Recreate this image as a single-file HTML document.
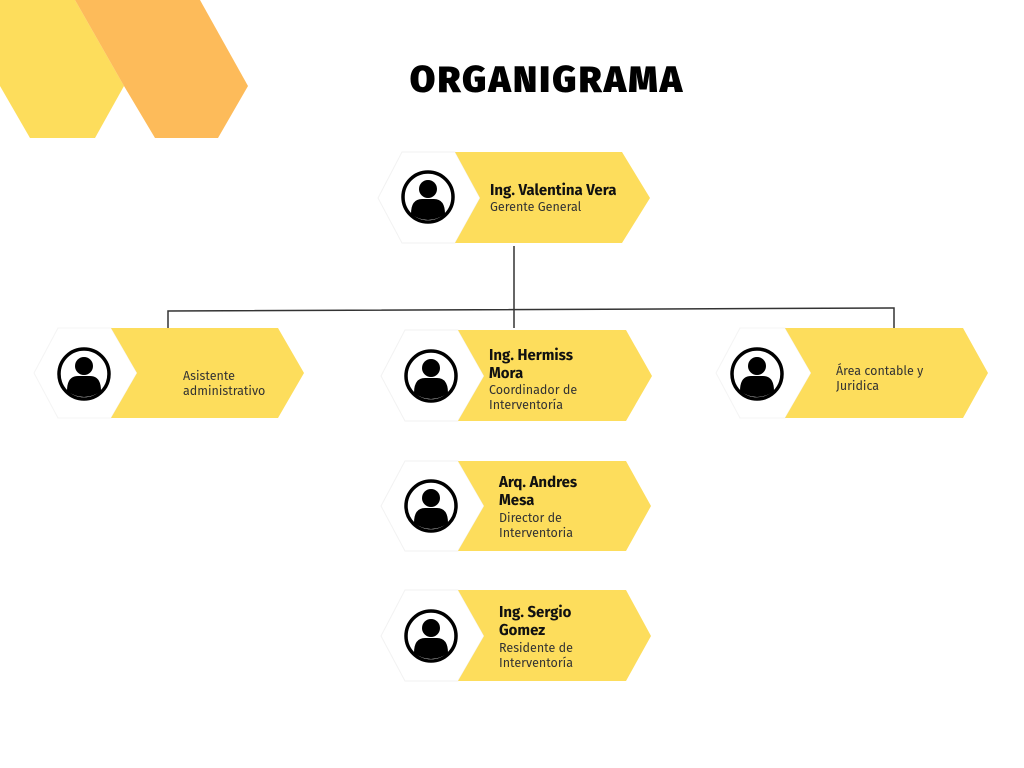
<!DOCTYPE html>
<html><head><meta charset="utf-8"><style>
body{margin:0;background:#fff}
svg{display:block}
text{font-family:"Fira Sans","Liberation Sans",sans-serif;fill:#111}
.b{font-weight:bold;font-size:15px}
.s{font-size:12.5px;fill:#333}
</style></head><body>
<svg width="1024" height="768" viewBox="0 0 1024 768">
<polygon points="0,0 75,0 124,86 95,138 30,138 0,86" fill="#FDDD5C"/>
<polygon points="75,0 200,0 248,86 218,138 155,138 124,86" fill="#FDBB5A"/>
<text x="547" y="92" text-anchor="middle" style="font-weight:900;font-size:37px;fill:#000;letter-spacing:2.2px">ORGANIGRAMA</text>

<g stroke="#333" stroke-width="1.5" fill="none">
<line x1="514" y1="246" x2="514" y2="328"/>
<polyline points="168,328 168,311 894,308 894,328"/>
</g>

<polygon points="402,152 455,152 480,198 455,243 402,243 378,198" fill="#fff" stroke="#f2f2f2"/>
<polygon points="455,152 622,152 650,198 622,243 455,243 480,198" fill="#FDDD5C"/>
<polygon points="58,328 111,328 137,373 111,418 58,418 34,373" fill="#fff" stroke="#f4f4f4"/>
<polygon points="111,328 278,328 304,373 278,418 111,418 137,373" fill="#FDDD5C"/>
<polygon points="405,330 458,330 484,376 458,421 405,421 381,376" fill="#fff" stroke="#f2f2f2"/>
<polygon points="458,330 626,330 652,376 626,421 458,421 484,376" fill="#FDDD5C"/>
<polygon points="740,328 785,328 811,373 785,418 740,418 716,373" fill="#fff" stroke="#f4f4f4"/>
<polygon points="785,328 963,328 988,373 963,418 785,418 811,373" fill="#FDDD5C"/>
<polygon points="405,461 458,461 484,506 458,551 405,551 381,506" fill="#fff" stroke="#f2f2f2"/>
<polygon points="458,461 626,461 651,506 626,551 458,551 484,506" fill="#FDDD5C"/>
<polygon points="405,590 458,590 484,636 458,681 405,681 381,636" fill="#fff" stroke="#f2f2f2"/>
<polygon points="458,590 626,590 651,636 626,681 458,681 484,636" fill="#FDDD5C"/>

<defs>
<g id="ic">
<circle cx="0" cy="0" r="25" fill="#fff" stroke="#000" stroke-width="3.5"/>
<circle cx="0" cy="-8" r="9" fill="#000"/>
<path d="M-17,17 Q-17,2 -6,2 L6,2 Q17,2 17,17 Q9,23 0,23 Q-9,23 -17,17Z" fill="#000"/>
</g>
</defs>
<use href="#ic" x="428" y="197"/>
<use href="#ic" x="84" y="374"/>
<use href="#ic" x="431" y="376"/>
<use href="#ic" x="757" y="374"/>
<use href="#ic" x="431" y="506"/>
<use href="#ic" x="431" y="636"/>

<text x="490" y="195" class="b">Ing. Valentina Vera</text>
<text x="490" y="211" class="s">Gerente General</text>

<text x="183" y="380" class="s">Asistente</text>
<text x="183" y="395" class="s">administrativo</text>

<text x="489" y="360" class="b">Ing. Hermiss</text>
<text x="489" y="378" class="b">Mora</text>
<text x="489" y="394" class="s">Coordinador de</text>
<text x="489" y="409" class="s">Interventoría</text>

<text x="836" y="375" class="s">Área contable y</text>
<text x="836" y="390" class="s">Juridica</text>

<text x="499" y="487" class="b">Arq. Andres</text>
<text x="499" y="505" class="b">Mesa</text>
<text x="499" y="522" class="s">Director de</text>
<text x="499" y="537" class="s">Interventoria</text>

<text x="499" y="617" class="b">Ing. Sergio</text>
<text x="499" y="635" class="b">Gomez</text>
<text x="499" y="652" class="s">Residente de</text>
<text x="499" y="667" class="s">Interventoría</text>
</svg>
</body></html>
